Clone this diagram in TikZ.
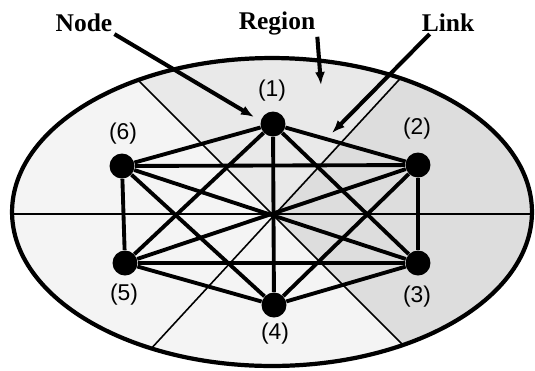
\documentclass[tikz,border=0pt]{standalone}
\usepackage{fontspec}
\setmainfont{Liberation Serif}
\setsansfont{Liberation Sans}
\usetikzlibrary{arrows.meta}

\begin{document}
\begin{tikzpicture}[x=0.02cm, y=-0.02cm,
        dot/.style={circle, fill=black, minimum size=0.5cm, inner sep=0pt},
        num/.style={font=\sffamily\fontsize{13}{13}\selectfont, inner sep=0pt},
        tag/.style={font=\bfseries\fontsize{14.5}{14.5}\selectfont, inner sep=1pt},
        link/.style={line width=2.2pt},
        divider/.style={line width=0.9pt},
        pointer/.style={line width=2.3pt, -{Latex[length=2.6mm, width=2mm]}}
      ]
  \useasboundingbox (0,0) rectangle (535,370);
  \coordinate (c) at (273,214);
  % regions
  \begin{scope}
    \clip (272,212) ellipse [x radius=5.2cm, y radius=3.08cm];
    \fill[gray!9] (0,0) rectangle (535,370);
    \fill[gray!17] (c) -- (-28,-86) -- (528,-60) -- cycle;
    \fill[gray!27] (c) -- (528,-60) -- (620,-60) -- (620,520) -- (572,514) -- cycle;
    \draw[divider] (0,214) -- (540,214);
    \draw[divider] (-28,-86) -- (572,514);
    \draw[divider] (528,-60) -- (30,480);
  \end{scope}
  \draw[line width=2.4pt] (272,212) ellipse [x radius=5.2cm, y radius=3.08cm];

  % nodes
  \node[dot] (n1) at (273,124) {};
  \node[dot] (n2) at (418,165) {};
  \node[dot] (n3) at (418,263) {};
  \node[dot] (n4) at (274,305) {};
  \node[dot] (n5) at (125,263) {};
  \node[dot] (n6) at (122,166) {};
  \node[num] (l1) at (272,91) {(1)};
  \node[num] (l2) at (417,129) {(2)};
  \node[num] (l3) at (417,297) {(3)};
  \node[num] (l4) at (275,334) {(4)};
  \node[num] (l5) at (124,295) {(5)};
  \node[num] (l6) at (123,134) {(6)};

  % links
  \draw[link] (n1)--(n2); \draw[link] (n1)--(n3); \draw[link] (n1)--(n4);
  \draw[link] (n1)--(n5); \draw[link] (n1)--(n6);
  \draw[link] (n2)--(n3); \draw[link] (n2)--(n4); \draw[link] (n2)--(n5);
  \draw[link] (n2)--(n6);
  \draw[link] (n3)--(n4); \draw[link] (n3)--(n5); \draw[link] (n3)--(n6);
  \draw[link] (n4)--(n5); \draw[link] (n4)--(n6);
  \draw[link] (n5)--(n6);

  % callouts
  \node[tag] (nodetxt) at (84,23) {Node};
  \node[tag] (regiontxt) at (277,23) {Region};
  \node[tag] (linktxt) at (448,23) {Link};
  \coordinate (ptnode) at (254,117);
  \coordinate (ptregion) at (321,85);
  \coordinate (ptlink) at (332,133);
  \draw[pointer] (nodetxt.south east) -- (ptnode);
  \draw[pointer] (regiontxt.south east) -- (ptregion);
  \draw[pointer] ([xshift=2mm]linktxt.south west) -- (ptlink);
\end{tikzpicture}
\end{document}
